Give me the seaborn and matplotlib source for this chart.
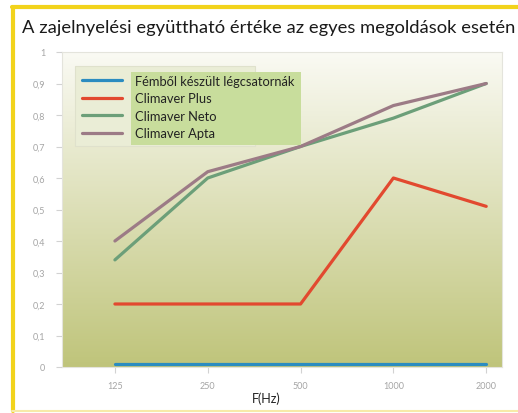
import numpy as np
import pandas as pd
import seaborn as sns
import matplotlib.pyplot as plt
from matplotlib.lines import Line2D
from matplotlib.patches import Rectangle

# Frequency bands and absorption coefficients
freqs = ['125', '250', '500', '1000', '2000']
series = ['Fémből készült légcsatornák', 'Climaver Plus', 'Climaver Neto', 'Climaver Apta']
fem = [0.01, 0.01, 0.01, 0.01, 0.01]
plus = [0.2, 0.2, 0.2, 0.6, 0.51]
neto = [0.34, 0.6, 0.7, 0.79, 0.9]
apta = [0.4, 0.62, 0.7, 0.83, 0.9]
yticks = [0, 0.1, 0.2, 0.3, 0.4, 0.5, 0.6, 0.7, 0.8, 0.9, 1]
ytick_labels = ['0', '0,1', '0,2', '0,3', '0,4', '0,5', '0,6', '0,7', '0,8', '0,9', '1']
colors = ['#2b8cc0', '#e2492f', '#6c9f79', '#9c7b86']

df = pd.DataFrame({
    'F': freqs * 4,
    'value': fem + plus + neto + apta,
    'series': [s for s in series for _ in freqs],
})

sns.set_style('white')
plt.rcParams['font.family'] = ['Lato', 'DejaVu Sans']

W, H = 518, 414
fig = plt.figure(figsize=(W / 100, H / 100), dpi=100)
ax = fig.add_axes([62 / W, 1 - 368 / H, 440 / W, 315 / H])

# gradient background of the plot area
grad = np.linspace(0, 1, 256)[:, None]
top = np.array([0.98, 0.98, 0.955])
bottom = np.array([0.75, 0.77, 0.48])
img = top + (bottom - top) * grad[..., None]
ax.imshow(img, extent=[0, 1, 0, 1], transform=ax.transAxes, aspect='auto', zorder=0)

sns.lineplot(data=df, x='F', y='value', hue='series', palette=colors, linewidth=2.3,
             sort=False, ax=ax, zorder=3, legend=False)

ax.set_xlim(-0.57, 4.17)
ax.set_ylim(0, 1)
ax.set_yticks(yticks)
ax.set_yticklabels(ytick_labels)
ax.tick_params(axis='both', colors='#d2d2d2', labelcolor='#a5a5a5', labelsize=6.5,
               length=4, width=0.8, direction='out', left=True, bottom=True)
ax.tick_params(axis='y', pad=8)
ax.tick_params(axis='x', pad=6)
for s in ax.spines.values():
    s.set_color('#e4e4dc')
    s.set_linewidth(0.8)
ax.set_ylabel('')
ax.set_xlabel('F(Hz)', fontsize=9, color='#222222')
ax.xaxis.set_label_coords((266 - 62) / 440, -0.078)

# legend: pale outer box, green box behind the labels
fig.add_artist(Rectangle((75 / W, 1 - 147 / H), 180 / W, 80 / H, transform=fig.transFigure,
                         facecolor='#eaedd6', edgecolor='#dfe1cc', linewidth=0.8, zorder=5))
fig.add_artist(Rectangle((131 / W, 1 - 146 / H), 170 / W, 73 / H, transform=fig.transFigure,
                         facecolor='#c8dd9c', edgecolor='none', zorder=6))
handles = [Line2D([], [], color=c, linewidth=2.3) for c in colors]
leg = fig.legend(handles, series, loc='upper left', bbox_to_anchor=(82 / W, 1 - 76 / H),
                 fontsize=9.3, frameon=False, handlelength=3.1, handletextpad=1.0,
                 labelspacing=0.42, borderpad=0, borderaxespad=0)
leg.set_zorder(7)
for t in leg.get_texts():
    t.set_color('#222222')

# title and yellow frame
fig.text(22 / W, 1 - 28 / H, 'A zajelnyelési együttható értéke az egyes megoldások esetén',
         fontsize=13.2, color='#1a1a1a', va='center', ha='left')
fig.add_artist(Line2D([13 / W, 13 / W], [1 - 8 / H, 1 - 412 / H], color='#f2d31b', linewidth=3))
fig.add_artist(Line2D([12 / W, 1], [1 - 8 / H, 1 - 8 / H], color='#f2d31b', linewidth=3))
fig.add_artist(Line2D([12 / W, 1], [1 - 412 / H, 1 - 412 / H], color='#f7eaa8', linewidth=1.5))

fig.savefig('out.png', dpi=100)
